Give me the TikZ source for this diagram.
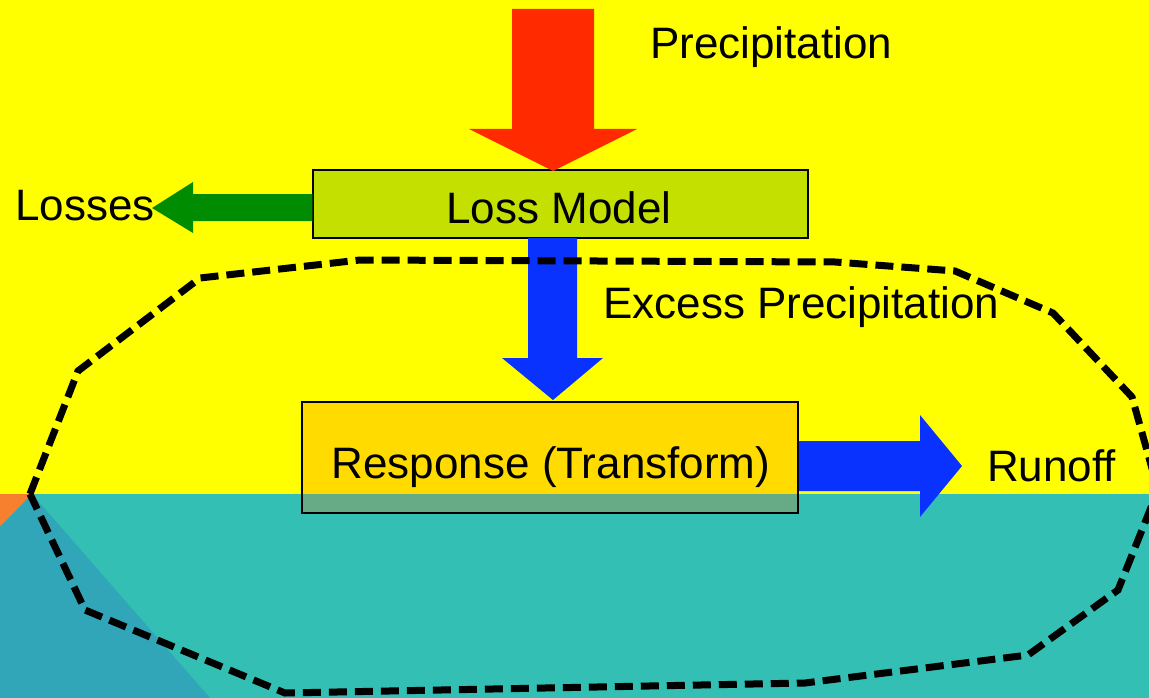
\documentclass[tikz,border=0pt]{standalone}
\usepackage{fontspec}
\setmainfont{Liberation Sans}
\definecolor{bgyellow}{HTML}{FFFF00}
\definecolor{bgteal}{HTML}{33BFB4}
\definecolor{bgdark}{HTML}{30A6B8}
\definecolor{bgorange}{HTML}{F7802E}
\definecolor{arrred}{HTML}{FF2A00}
\definecolor{arrgreen}{HTML}{008C00}
\definecolor{arrblue}{HTML}{0A32FF}
\definecolor{lossfill}{HTML}{C4E000}
\definecolor{respfill}{HTML}{FF7300}
\begin{document}
\begin{tikzpicture}[x=1pt,y=-1pt,
  every node/.style={font=\fontsize{44}{52}\selectfont, inner sep=0pt},
  box/.style={draw=black, line width=1.5pt, rectangle},
  lbl/.style={anchor=base west},
  boundary/.style={line width=7pt, dash pattern=on 18pt off 8pt}]
\useasboundingbox (0,0) rectangle (1149,698);
% background
\fill[bgyellow] (0,0) rectangle (1149,494);
\fill[bgteal] (0,494) rectangle (1149,698);
\fill[bgorange] (0,494) -- (32,494) -- (0,527) -- cycle;
\fill[bgdark] (0,527) -- (32,494) -- (210,698) -- (0,698) -- cycle;
% boxes
\node[box, fill=lossfill, minimum width=495pt, minimum height=68pt] (loss) at (560.5,204) {};
\node[anchor=base] (losstext) at (559,223) {Loss Model};
\node[box, fill=respfill, fill opacity=0.25, minimum width=496pt, minimum height=111pt] (resp) at (550,457.5) {};
\node[anchor=base] (resptext) at (551,478) {Response (Transform)};
% labels
\node[lbl] (precip) at (650,59) {Precipitation};
\node[lbl] (losses) at (15,220) {Losses};
\node[lbl] (excess) at (603,318) {Excess Precipitation};
\node[lbl] (runoff) at (987,481) {Runoff};
% block arrows
\fill[arrred] (512,9) -- (594,9) -- (594,129) -- (637,129) -- (553,171) -- (469,129) -- (512,129) -- cycle;
\fill[arrgreen] (loss.west |- 0,194) -- (193,194) -- (193,182) -- (152,208) -- (193,233) -- (193,221) -- (loss.west |- 0,221) -- cycle;
\fill[arrblue] (528,238) -- (577,238) -- (577,358) -- (603,358) -- (553,400) -- (502,358) -- (528,358) -- cycle;
\fill[arrblue] (resp.east |- 0,441) -- (920,441) -- (920,415) -- (962,466) -- (920,517) -- (920,491) -- (resp.east |- 0,491) -- cycle;
% dashed boundary
\draw[boundary] (30,494) -- (78,371) -- (200,278) -- (360,260) -- (835,262) -- (955,271) -- (1053,313) -- (1132,397) -- (1158,490) -- (1118,590) -- (1028,655) -- (805,683) -- (285,693) -- (85,610) -- cycle;
\end{tikzpicture}
\end{document}
